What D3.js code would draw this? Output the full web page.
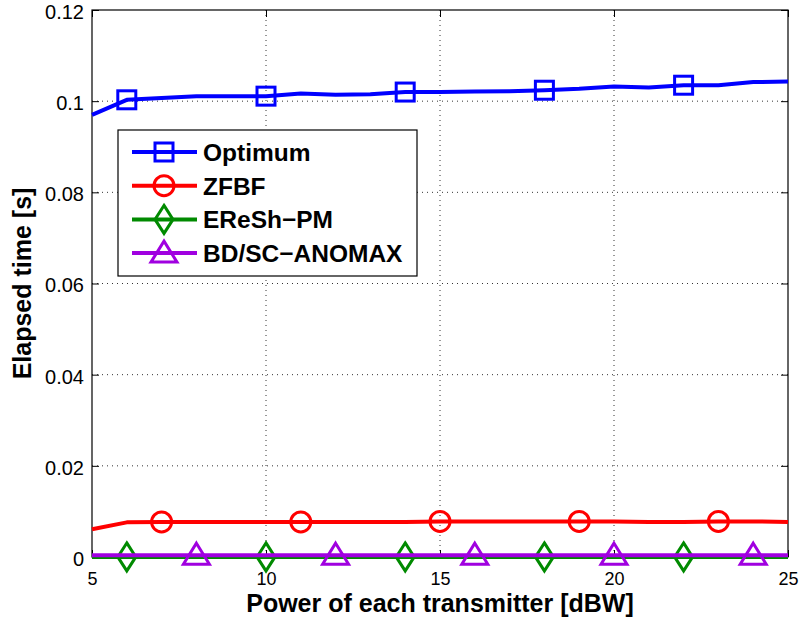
<!DOCTYPE html>
<html>
<head>
<meta charset="utf-8">
<script src="https://cdn.jsdelivr.net/npm/d3@7/dist/d3.min.js"></script>
<style>
  html, body { margin: 0; padding: 0; background: #fff; }
  svg { display: block; font-family: "Liberation Sans", Arial, Helvetica, sans-serif; }
</style>
</head>
<body>
<svg id="chart" width="800" height="621"></svg>
<script>
// Transmit power (dBW)
const power = d3.range(5, 26);

// Elapsed time per algorithm (seconds)
const optimum = [0.0970, 0.1003, 0.1007, 0.1011, 0.1011, 0.1011, 0.1017, 0.1014, 0.1015, 0.1020, 0.1020,
                 0.1021, 0.1022, 0.1024, 0.1027, 0.1032, 0.1030, 0.1035, 0.1035, 0.1042, 0.1043];
const zfbf    = [0.0061, 0.0076, 0.0077, 0.0077, 0.0077, 0.0077, 0.0077, 0.0077, 0.0077, 0.0077, 0.0078,
                 0.0078, 0.0078, 0.0078, 0.0078, 0.0078, 0.0077, 0.0077, 0.0078, 0.0078, 0.0077];
const ereshPM = [0.00002, 0.00002, 0.00002, 0.00002, 0.00002, 0.00002, 0.00002, 0.00002, 0.00002, 0.00002, 0.00002,
                 0.00002, 0.00002, 0.00002, 0.00002, 0.00002, 0.00002, 0.00002, 0.00002, 0.00002, 0.00002];
const anomax  = [0.00040, 0.00040, 0.00040, 0.00040, 0.00040, 0.00040, 0.00040, 0.00040, 0.00040, 0.00040, 0.00040,
                 0.00040, 0.00040, 0.00040, 0.00040, 0.00040, 0.00040, 0.00040, 0.00040, 0.00040, 0.00040];

// Powers at which each curve carries a marker
const optimumMarks = [6, 10, 14, 18, 22];
const zfbfMarks    = [7, 11, 15, 19, 23];
const ereshMarks   = [6, 10, 14, 18, 22];
const anomaxMarks  = [8, 12, 16, 20, 24];

const xTicks = [5, 10, 15, 20, 25];
const yTicks = [0, 0.02, 0.04, 0.06, 0.08, 0.1, 0.12];
const yTickLabels = ["0", "0.02", "0.04", "0.06", "0.08", "0.1", "0.12"];

const series = [
  { name: "Optimum",     values: optimum, marks: optimumMarks, color: "#0000ff", marker: "square" },
  { name: "ZFBF",        values: zfbf,    marks: zfbfMarks,    color: "#ff0000", marker: "circle" },
  { name: "EReSh\u2212PM",     values: ereshPM, marks: ereshMarks,   color: "#008a00", marker: "diamond" },
  { name: "BD/SC\u2212ANOMAX", values: anomax,  marks: anomaxMarks,  color: "#a000e0", marker: "triangle" }
];

const svg = d3.select("#chart");
const mLeft = 92, mRight = 788, mTop = 10, mBottom = 557;

const x = d3.scaleLinear().domain([5, 25]).range([mLeft, mRight]);
const y = d3.scaleLinear().domain([0, 0.12]).range([mBottom, mTop]);

// Dotted grid
const grid = svg.append("g");
grid.selectAll("line.gx").data(xTicks.slice(1, -1)).join("line")
  .attr("x1", d => x(d)).attr("x2", d => x(d)).attr("y1", mTop).attr("y2", mBottom)
  .attr("stroke", "#333").attr("stroke-width", 1).attr("stroke-dasharray", "1,4");
grid.selectAll("line.gy").data(yTicks.slice(1, -1)).join("line")
  .attr("x1", mLeft).attr("x2", mRight).attr("y1", d => y(d)).attr("y2", d => y(d))
  .attr("stroke", "#333").attr("stroke-width", 1).attr("stroke-dasharray", "1,4");

// Axes with inward ticks
const xAxis = svg.append("g").attr("transform", `translate(0,${mBottom})`)
  .call(d3.axisBottom(x).tickValues(xTicks).tickSizeInner(-7).tickSizeOuter(0).tickPadding(15));
const yAxis = svg.append("g").attr("transform", `translate(${mLeft},0)`)
  .call(d3.axisLeft(y).tickValues(yTicks).tickFormat((d, i) => yTickLabels[i]).tickSizeInner(-7).tickSizeOuter(0).tickPadding(8));
svg.append("g").attr("transform", `translate(0,${mTop})`)
  .call(d3.axisTop(x).tickValues(xTicks).tickSizeInner(-7).tickSizeOuter(0).tickFormat(""));
svg.append("g").attr("transform", `translate(${mRight},0)`)
  .call(d3.axisRight(y).tickValues(yTicks).tickSizeInner(-7).tickSizeOuter(0).tickFormat(""));
svg.selectAll(".domain").remove();
svg.selectAll(".tick line").attr("stroke", "#000").attr("stroke-width", 1);
svg.selectAll(".tick text").attr("fill", "#000")
  .attr("font-family", "'Liberation Sans', Arial, sans-serif");
yAxis.selectAll(".tick text").attr("font-size", 20).attr("dy", "0.42em");
xAxis.selectAll(".tick text").attr("font-size", 18).attr("dy", "0.71em");

// Frame
svg.append("rect").attr("x", mLeft).attr("y", mTop).attr("width", mRight - mLeft).attr("height", mBottom - mTop)
  .attr("fill", "none").attr("stroke", "#000").attr("stroke-width", 1.2);

// Marker drawing
function drawMarker(g, type, cx, cy, color) {
  if (type === "square") {
    g.append("rect").attr("x", cx - 9).attr("y", cy - 9).attr("width", 18).attr("height", 18)
      .attr("fill", "none").attr("stroke", color).attr("stroke-width", 3);
  } else if (type === "circle") {
    g.append("circle").attr("cx", cx).attr("cy", cy).attr("r", 10)
      .attr("fill", "none").attr("stroke", color).attr("stroke-width", 3);
  } else if (type === "diamond") {
    g.append("path").attr("d", `M${cx},${cy - 14}L${cx + 9},${cy}L${cx},${cy + 14}L${cx - 9},${cy}Z`)
      .attr("fill", "none").attr("stroke", color).attr("stroke-width", 3);
  } else if (type === "triangle") {
    g.append("path").attr("d", `M${cx},${cy - 12}L${cx + 13},${cy + 9}L${cx - 13},${cy + 9}Z`)
      .attr("fill", "none").attr("stroke", color).attr("stroke-width", 3);
  }
}

const line = d3.line().x((d, i) => x(power[i])).y(d => y(d));
const plot = svg.append("g");
series.forEach(s => {
  plot.append("path").datum(s.values).attr("d", line)
    .attr("fill", "none").attr("stroke", s.color).attr("stroke-width", 4)
    .attr("stroke-linejoin", "round");
  s.marks.forEach(p => {
    const i = power.indexOf(p);
    drawMarker(plot, s.marker, x(p), y(s.values[i]), s.color);
  });
});

// Legend
const lg = svg.append("g");
lg.append("rect").attr("x", 118).attr("y", 130).attr("width", 299).attr("height", 146)
  .attr("fill", "#fff").attr("stroke", "#000").attr("stroke-width", 1.2);
series.forEach((s, i) => {
  const cy = 152 + i * 33.7;
  lg.append("line").attr("x1", 132).attr("x2", 197).attr("y1", cy).attr("y2", cy)
    .attr("stroke", s.color).attr("stroke-width", 4);
  drawMarker(lg, s.marker, 164, cy, s.color);
  lg.append("text").attr("x", 203).attr("y", cy).attr("dy", "0.36em")
    .attr("font-size", 24.5).attr("font-weight", "bold").text(s.name);
});

// Axis titles
svg.append("text").attr("x", (mLeft + mRight) / 2 + 0).attr("y", 612)
  .attr("text-anchor", "middle").attr("font-size", 25).attr("font-weight", "bold")
  .text("Power of each transmitter [dBW]");
svg.append("text").attr("transform", `translate(31,${(mTop + mBottom) / 2}) rotate(-90)`)
  .attr("text-anchor", "middle").attr("font-size", 25).attr("font-weight", "bold")
  .text("Elapsed time [s]");
</script>
</body>
</html>
